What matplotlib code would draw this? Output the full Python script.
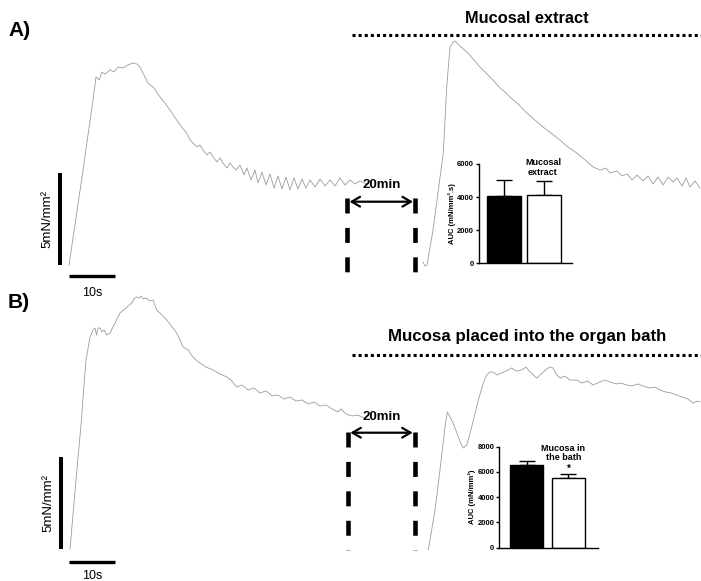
import matplotlib
matplotlib.use("Agg")
import matplotlib.pyplot as plt

plt.rcParams['font.family'] = ['Liberation Sans', 'DejaVu Sans']

# ---------------- recorded tension traces (time in s, tension in mN/mm2) ----------------
# Panel A: control contraction, then response to the mucosal extract
a_ctrl_t = [0.00, 2.83, 5.22, 5.87, 6.59, 7.11, 7.83, 8.91, 9.78, 10.65, 11.74, 12.83, 13.91, 14.78,
            15.43, 17.17, 18.48, 19.78, 20.87, 21.96, 23.41, 24.35, 25.59, 26.30, 26.96, 27.83, 28.48,
            29.13, 30.00, 30.65, 31.30, 32.17, 32.83, 33.48, 34.35, 35.00, 35.65, 36.30, 37.17, 38.04,
            38.70, 39.57, 40.43, 41.09, 41.96, 42.83, 43.70, 44.57, 45.43, 46.30, 47.17, 48.04, 48.91,
            49.78, 50.65, 51.52, 52.39, 53.48, 54.57, 55.65, 56.74, 57.83, 58.91, 60.00, 61.09, 62.17,
            63.26, 64.57]
a_ctrl_f = [0.00, 4.78, 8.97, 10.22, 10.05, 10.49, 10.38, 10.60, 10.49, 10.76, 10.71, 10.87, 10.98, 10.92,
            10.76, 9.89, 9.62, 9.13, 8.80, 8.42, 7.88, 7.55, 7.17, 6.79, 6.63, 6.41, 6.52,
            6.25, 5.98, 6.14, 5.87, 5.60, 5.82, 5.54, 5.27, 5.54, 5.33, 5.16, 5.43, 4.89,
            5.27, 4.62, 5.16, 4.46, 5.05, 4.35, 4.95, 4.18, 4.84, 4.13, 4.78, 4.08, 4.73,
            4.13, 4.67, 4.18, 4.62, 4.24, 4.67, 4.29, 4.62, 4.29, 4.73, 4.35, 4.62, 4.40,
            4.57, 4.40]

a_ext_t = [76.96, 77.39, 77.83, 79.13, 80.00, 80.87, 81.37, 82.11, 82.83, 83.54, 83.91, 85.00, 86.74,
           88.04, 89.35, 90.87, 92.17, 93.70, 94.78, 95.87, 97.61, 99.50, 101.30, 103.04, 104.78,
           106.74, 108.48, 110.37, 112.17, 113.91, 115.43, 116.74, 117.61, 119.13, 120.22, 121.30,
           122.39, 123.48, 124.78, 125.87, 126.96, 128.04, 129.13, 130.22, 131.30, 132.17, 133.26,
           134.13, 135.00, 136.09, 137.17]
a_ext_f = [0.16, -0.05, 0.00, 1.90, 3.53, 5.16, 6.09, 9.67, 11.85, 12.12, 12.17, 11.90, 11.52,
           11.14, 10.76, 10.38, 10.05, 9.62, 9.40, 9.13, 8.75, 8.26, 7.88, 7.50, 7.17,
           6.79, 6.41, 6.09, 5.71, 5.33, 5.16, 5.27, 5.00, 5.11, 4.84, 4.95,
           4.62, 4.89, 4.57, 4.84, 4.40, 4.78, 4.35, 4.78, 4.51, 4.73, 4.29,
           4.73, 4.24, 4.57, 4.18]

# Panel B: control contraction, then with the mucosa placed in the organ bath
b_ctrl_t = [0.22, 1.52, 2.76, 3.11, 3.70, 4.57, 5.22, 5.65, 5.98, 6.30, 6.74, 7.17, 7.61, 8.20, 8.91,
            9.78, 11.09, 12.39, 13.63, 14.13, 14.72, 15.22, 15.65, 16.09, 16.74, 17.61, 18.26, 19.07,
            20.00, 21.24, 22.39, 23.41, 24.13, 24.78, 25.87, 26.96, 27.83, 28.48, 29.78, 31.30, 32.83,
            34.28, 35.22, 36.46, 37.61, 38.91, 40.22, 41.52, 42.83, 44.13, 45.43, 46.74, 48.04, 49.35,
            50.65, 51.96, 53.26, 54.57, 55.87, 57.17, 58.48, 59.13, 60.22, 61.52, 62.83, 64.13]
b_ctrl_f = [0.00, 3.75, 7.17, 8.48, 10.27, 11.52, 11.90, 12.01, 11.63, 12.01, 12.01, 11.79, 11.90, 11.63, 11.74,
            12.17, 12.83, 13.10, 13.37, 13.59, 13.70, 13.64, 13.75, 13.59, 13.64, 13.48, 13.53, 12.99,
            12.77, 12.45, 12.07, 11.74, 11.36, 10.98, 10.82, 10.43, 10.22, 10.11, 9.89, 9.73, 9.51,
            9.35, 9.18, 8.80, 8.91, 8.64, 8.75, 8.48, 8.59, 8.32, 8.37, 8.15, 8.26, 8.04,
            8.10, 7.88, 7.99, 7.77, 7.83, 7.61, 7.45, 7.61, 7.34, 7.23, 7.28, 7.12]

b_muc_t = [78.11, 79.57, 80.65, 81.74, 82.24, 83.20, 83.91, 84.63, 85.22, 85.72, 86.46, 87.54, 88.98,
           90.07, 90.80, 91.52, 92.17, 93.04, 94.07, 95.00, 96.24, 97.17, 98.41, 99.35, 100.22, 101.67,
           102.61, 103.85, 104.57, 105.22, 105.87, 106.74, 107.83, 108.91, 110.37, 111.52, 112.83,
           113.91, 115.43, 116.52, 117.61, 118.91, 120.00, 121.24, 122.39, 123.70, 124.78, 126.09,
           127.39, 128.48, 129.78, 130.87, 132.11, 133.26, 134.57, 135.65, 136.52, 137.17]
b_muc_f = [-0.05, 2.12, 4.29, 6.63, 7.45, 7.01, 6.58, 6.09, 5.71, 5.49, 5.65, 6.63, 8.10,
           9.02, 9.46, 9.62, 9.62, 9.46, 9.57, 9.67, 9.84, 9.67, 9.73, 9.89, 9.62, 9.29,
           9.51, 9.78, 9.89, 9.84, 9.51, 9.29, 9.40, 9.18, 9.18, 9.02, 9.13,
           8.91, 9.08, 9.18, 9.08, 8.97, 9.02, 8.91, 8.86, 8.97, 8.86, 8.75,
           8.80, 8.64, 8.53, 8.48, 8.37, 8.26, 8.15, 7.93, 8.04, 7.99]

# ---------------- AUC summary (mean, SEM) ----------------
groups = ["Control", "Treated"]
auc_extract_mean = [4050, 4120]
auc_extract_sem = [1000, 850]
auc_bath_mean = [6550, 5550]
auc_bath_sem = [350, 300]

scale_time = 10      # s
scale_force = 5      # mN/mm2

TRACE_COLOR = "#9c9c9c"

fig = plt.figure(figsize=(7.01, 5.81), dpi=100)

axA = fig.add_axes([0, 1 - 290 / 581, 1, 290 / 581])
axA.set_xlim(-15.0, 137.39)
axA.set_ylim(-1.359, 14.402)
axB = fig.add_axes([0, 0, 1, 291 / 581])
axB.set_xlim(-15.0, 137.39)
axB.set_ylim(-1.739, 14.076)
for ax in (axA, axB):
    ax.axis("off")

for ax, t, f in ((axA, a_ctrl_t, a_ctrl_f), (axA, a_ext_t, a_ext_f),
                 (axB, b_ctrl_t, b_ctrl_f), (axB, b_muc_t, b_muc_f)):
    ax.plot(t, f, color=TRACE_COLOR, lw=0.6)


def scale_bars(ax, xv, yh, ylab):
    ax.plot([xv, xv], [0, scale_force], color="k", lw=2.9, solid_capstyle="butt")
    ax.plot([0, scale_time], [yh, yh], color="k", lw=2.4, solid_capstyle="butt")
    ax.text(scale_time / 2, ylab, "10s", ha="center", va="center", fontsize=9)
    ax.text(xv - 2.8, scale_force / 2, "5mN/mm²", rotation=90, ha="center", va="center",
            fontsize=9.5)


scale_bars(axA, -1.96, -0.60, -1.51)
scale_bars(axB, -1.74, -0.69, -1.45)


def gap_marker(ax, x0, x1, ytop, ybot, yarrow, ytext):
    for x in (x0, x1):
        ax.plot([x, x], [ytop, ybot], color="k", lw=3.3, linestyle=(0, (3.27, 3.15)),
                solid_capstyle="butt", dash_capstyle="butt")
    ax.annotate("", xy=(x1 - 0.5, yarrow), xytext=(x0 + 0.5, yarrow),
                arrowprops=dict(arrowstyle="<->,head_length=0.6,head_width=0.35", lw=1.6,
                                color="k", shrinkA=0, shrinkB=0))
    ax.text((x0 + x1) / 2, ytext, "20min", ha="center", va="center", fontsize=9.5,
            fontweight="bold")


gap_marker(axA, 60.48, 75.28, 3.64, -0.38, 3.44, 4.35)
gap_marker(axB, 60.65, 75.22, 6.36, -0.05, 6.32, 7.19)

# treatment period bars with titles
axA.plot([61.5, 137.4], [12.5, 12.5], color="k", lw=2.2, linestyle=(0, (1, 1)),
         dash_capstyle="butt")
axA.text(99.57, 13.42, "Mucosal extract", ha="center", va="center", fontsize=11.8,
         fontweight="bold")
axB.plot([61.5, 137.4], [10.54, 10.54], color="k", lw=2.2, linestyle=(0, (1, 1)),
         dash_capstyle="butt")
axB.text(99.57, 11.55, "Mucosa placed into the organ bath", ha="center", va="center",
         fontsize=12.2, fontweight="bold")

fig.text(8 / 701, 1 - 30 / 581, "A)", fontsize=15, fontweight="bold", ha="left", va="center")
fig.text(8 / 701, 1 - 302 / 581, "B)", fontsize=15, fontweight="bold", ha="left", va="center")


def auc_inset(rect, means, sems, ymax, ylabel, xlim, width, title, title_xy, star_y=None):
    ax = fig.add_axes(rect)
    pos = [0, 1]
    ax.bar(pos, means, width=width, color=["black", "white"], edgecolor="black", linewidth=1.0,
           zorder=2)
    ax.errorbar(pos, means, yerr=[[0, 0], sems], fmt="none", ecolor="black", elinewidth=1.0,
                capsize=6, capthick=1.0, zorder=1)
    ax.set_xlim(*xlim)
    ax.set_ylim(0, ymax)
    ax.set_yticks(range(0, ymax + 1, 2000))
    ax.set_xticks([])
    for s in ("top", "right"):
        ax.spines[s].set_visible(False)
    for s in ("left", "bottom"):
        ax.spines[s].set_linewidth(1.0)
    ax.tick_params(axis="y", length=2.5, width=1.0, pad=1, labelsize=5.5)
    for lab in ax.get_yticklabels():
        lab.set_fontweight("bold")
    ax.set_ylabel(ylabel, fontsize=5.5, fontweight="bold", labelpad=1)
    ax.text(title_xy[0], title_xy[1], title, ha="center", va="center", fontsize=6.5,
            fontweight="bold", linespacing=1.1, clip_on=False)
    if star_y is not None:
        ax.text(1, star_y, "*", ha="center", va="bottom", fontsize=7, fontweight="bold",
                clip_on=False)
    ax.patch.set_alpha(0)
    return ax


auc_inset([479 / 701, 1 - 263.3 / 581, 93 / 701, 99.3 / 581], auc_extract_mean, auc_extract_sem,
          6000, "AUC (mN/mm².s)", (-0.613, 1.69), 0.84, "Mucosal\nextract", (0.97, 5790))
auc_inset([499.3 / 701, 1 - 547.7 / 581, 98.7 / 701, 101 / 581], auc_bath_mean, auc_bath_sem,
          8000, "AUC (mN/mm²)", (-0.66, 1.71), 0.8, "Mucosa in\nthe bath", (0.88, 7500),
          star_y=5880)

fig.savefig("out.png", dpi=100)
